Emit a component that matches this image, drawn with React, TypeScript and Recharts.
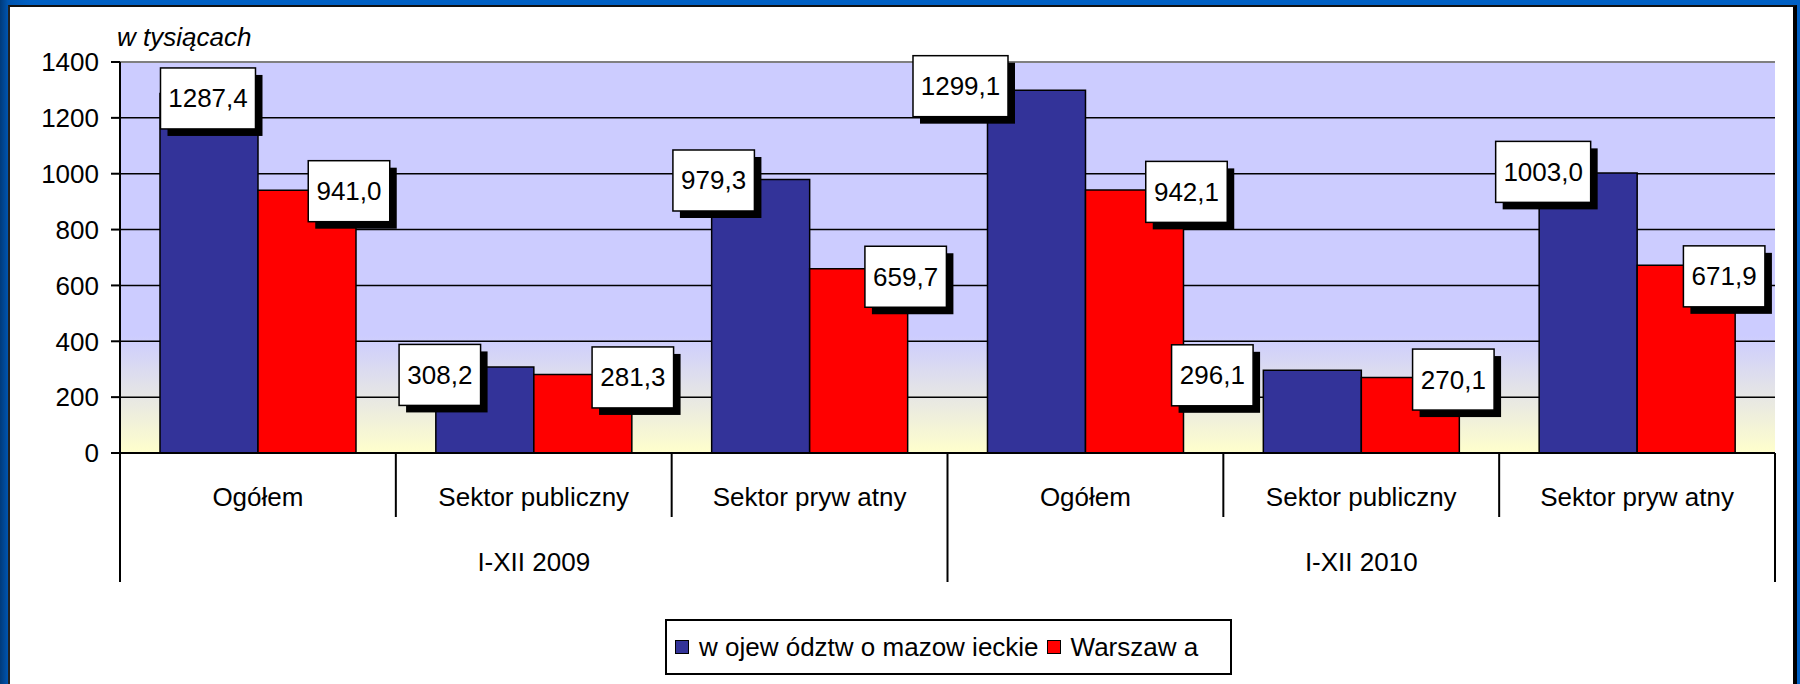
import React from 'react'
import { BarChart, Bar, XAxis, YAxis, CartesianGrid, ReferenceLine, LabelList } from 'recharts'

const kategorie = ['Ogółem', 'Sektor publiczny', 'Sektor pryw atny', 'Ogółem', 'Sektor publiczny', 'Sektor pryw atny']
const okresy = ['I-XII 2009', 'I-XII 2010']
const mazowieckie = [1287.4, 308.2, 979.3, 1299.1, 296.1, 1003.0]
const warszawa = [941.0, 281.3, 659.7, 942.1, 270.1, 671.9]
const yTicks = [0, 200, 400, 600, 800, 1000, 1200, 1400]
const serie = [
  { key: 'mazowieckie', name: 'w ojew ództw o mazow ieckie', color: '#333399' },
  { key: 'warszawa', name: 'Warszaw a', color: '#FF0000' },
]

// przesunięcia etykiet względem wierzchołka słupka (ręcznie przesunięte w oryginale)
const labelDxMaz = [-1, -45, -47, -76, -100, -45]
const labelDyMaz = [5, 8, 1, -4, 5, -1]
const labelDxWaw = [42, 50, 47, 52, 43, 38]
const labelDyWaw = [1, 3, 8, 2, 2, 11]

const FONT = '"Liberation Sans", Arial, sans-serif'

const chartData = kategorie.map((k, i) => ({
  kategoria: k,
  mazowieckie: mazowieckie[i],
  warszawa: warszawa[i],
}))

const fmt = (v: number) => v.toFixed(1).replace('.', ',')

const BoxLabel = (props: any) => {
  const { x, y, width, value, index, dxs, dys } = props
  const text = fmt(Number(value))
  const w = text.length * 13.5 + 14
  const h = 61
  const cx = x + width / 2 + dxs[index]
  const cy = y + dys[index]
  return (
    <g>
      <rect x={cx - w / 2 + 7} y={cy - h / 2 + 7} width={w} height={h} fill="#000" />
      <rect x={cx - w / 2} y={cy - h / 2} width={w} height={h} fill="#fff" stroke="#000" strokeWidth={1.5} />
      <text x={cx} y={cy} textAnchor="middle" dominantBaseline="central" fontSize={26} fontFamily={FONT} fill="#000">
        {text}
      </text>
    </g>
  )
}

const CategoryTick = (props: any) => {
  const { x, y, payload, index } = props
  const half = payload.offset ? payload.offset : 1655 / 12
  const i = index
  const left = x - half
  const right = x + half
  return (
    <g>
      <text x={x} y={y + 53} textAnchor="middle" fontSize={26} fontFamily={FONT} fill="#000">
        {payload.value}
      </text>
      <line x1={left} x2={left} y1={y} y2={i % 3 === 0 ? y + 129 : y + 64} stroke="#000" strokeWidth={2} />
      {i === kategorie.length - 1 && (
        <line x1={right} x2={right} y1={y} y2={y + 129} stroke="#000" strokeWidth={2} />
      )}
      {i % 3 === 1 && (
        <text x={x} y={y + 118} textAnchor="middle" fontSize={26} fontFamily={FONT} fill="#000">
          {okresy[Math.floor(i / 3)]}
        </text>
      )}
    </g>
  )
}

export default function App() {
  return (
    <div
      style={{
        position: 'absolute',
        left: 0,
        top: 0,
        width: 1800,
        height: 684,
        overflow: 'hidden',
        background: 'linear-gradient(90deg, #003a7a 0px, #0055b0 8px, #0060c4 30px)',
        fontFamily: FONT,
      }}
    >
      <div
        style={{
          position: 'absolute',
          left: 8,
          top: 5,
          width: 1783,
          height: 700,
          background: '#fff',
          borderLeft: '2px solid #222',
          borderTop: '2px solid #111',
          borderRight: '4px solid #000',
        }}
      />
      <div
        style={{
          position: 'absolute',
          left: 117,
          top: 22,
          fontSize: 26,
          fontStyle: 'italic',
          color: '#000',
        }}
      >
        w tysiącach
      </div>
      <div style={{ position: 'absolute', left: 0, top: 0 }}>
        <BarChart
          width={1800}
          height={684}
          data={chartData}
          margin={{ top: 62, right: 25, left: 0, bottom: 101 }}
          barCategoryGap="14.5%"
          barGap={0}
        >
          <defs>
            <linearGradient id="plotBg" x1="0" y1="0" x2="0" y2="1">
              <stop offset="0%" stopColor="#CCCCFF" />
              <stop offset="70%" stopColor="#CCCCFF" />
              <stop offset="100%" stopColor="#FFFFCC" />
            </linearGradient>
          </defs>
          <CartesianGrid vertical={false} stroke="#000" strokeWidth={1.5} fill="url(#plotBg)" fillOpacity={1} />
          <XAxis
            dataKey="kategoria"
            height={130}
            interval={0}
            tickLine={false}
            tickSize={0}
            tickMargin={0}
            axisLine={{ stroke: '#000', strokeWidth: 2 }}
            tick={(p: any) => <CategoryTick {...p} />}
          />
          <YAxis
            width={120}
            domain={[0, 1400]}
            ticks={yTicks}
            interval={0}
            tickSize={9}
            tickMargin={12}
            axisLine={{ stroke: '#000', strokeWidth: 2 }}
            tickLine={{ stroke: '#000', strokeWidth: 2 }}
            tick={{ fontSize: 26, fontFamily: FONT, fill: '#000' }}
          />
          <YAxis
            yAxisId="r"
            orientation="right"
            width={0}
            domain={[0, 1]}
            tick={false}
            tickLine={false}
            axisLine={{ stroke: '#808080', strokeWidth: 2 }}
          />
          <ReferenceLine y={1400} stroke="#808080" strokeWidth={2} />
          <Bar dataKey="mazowieckie" name={serie[0].name} fill={serie[0].color} stroke="#000" strokeWidth={1.5} isAnimationActive={false}>
            <LabelList dataKey="mazowieckie" content={(p: any) => <BoxLabel {...p} dxs={labelDxMaz} dys={labelDyMaz} />} />
          </Bar>
          <Bar dataKey="warszawa" name={serie[1].name} fill={serie[1].color} stroke="#000" strokeWidth={1.5} isAnimationActive={false}>
            <LabelList dataKey="warszawa" content={(p: any) => <BoxLabel {...p} dxs={labelDxWaw} dys={labelDyWaw} />} />
          </Bar>
        </BarChart>
      </div>
      <div
        style={{
          position: 'absolute',
          left: 665,
          top: 619,
          width: 555,
          height: 52,
          border: '2px solid #000',
          background: '#fff',
          display: 'flex',
          alignItems: 'center',
          paddingLeft: 8,
          boxSizing: 'content-box',
          fontSize: 26,
          color: '#000',
        }}
      >
        {serie.map(s => (
          <div key={s.key} style={{ display: 'flex', alignItems: 'center', marginRight: 8 }}>
            <span
              style={{
                display: 'inline-block',
                width: 12,
                height: 12,
                background: s.color,
                border: '1.5px solid #000',
                marginRight: 10,
              }}
            />
            <span>{s.name}</span>
          </div>
        ))}
      </div>
    </div>
  )
}
